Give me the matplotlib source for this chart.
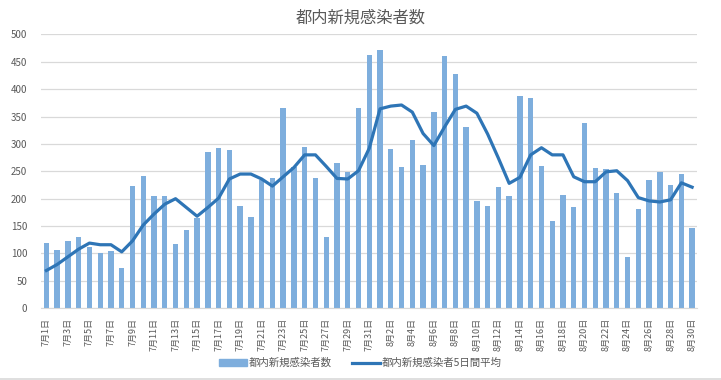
import numpy as np
import matplotlib.pyplot as plt
from matplotlib.lines import Line2D
from matplotlib.patches import Patch

plt.rcParams['font.family'] = ['Noto Sans CJK JP', 'DejaVu Sans']

# dates 7/1 .. 8/30
dates = ['7月%d日' % d for d in range(1, 32)] + ['8月%d日' % d for d in range(1, 31)]

# daily new cases
cases = [119, 106, 123, 130, 111, 101, 105, 74, 223, 241,
         205, 205, 118, 143, 165, 286, 293, 289, 187, 167,
         235, 238, 366, 258, 294, 238, 131, 266, 249, 366,
         462, 471, 291, 257, 307, 262, 358, 460, 428, 330,
         196, 187, 221, 205, 387, 384, 260, 159, 207, 185,
         339, 256, 254, 210, 94, 181, 234, 249, 225, 245,
         147]

# 5-day average
avg5 = [69, 80, 94, 108, 119, 116, 116, 103, 123, 152,
        172, 190, 200, 184, 168, 184, 201, 236, 245, 245,
        236, 223, 240, 257, 280, 280, 259, 237, 236, 251,
        292, 364, 369, 371, 358, 319, 297, 331, 363, 369,
        356, 318, 274, 228, 239, 280, 293, 280, 280, 240,
        231, 231, 249, 251, 233, 202, 196, 194, 198, 229,
        221]

bar_label = '都内新規感染者数'
line_label = '都内新規感染者5日間平均'

dpi = 100
fig = plt.figure(figsize=(7.21, 3.80), dpi=dpi)
ax = fig.add_axes([0.0569, 0.1887, 0.9105, 0.721])

x = np.arange(len(dates)) + 0.5
ax.bar(x, cases, width=0.5, color='#7eaedd', zorder=2)
ax.plot(x, avg5, color='#2e75b6', linewidth=2.3, zorder=3, solid_joinstyle='round')

ax.set_xlim(0, len(dates))
ax.set_ylim(0, 500)
ax.set_yticks(range(0, 501, 50))
ax.yaxis.grid(True, color='#d9d9d9', linewidth=0.9, zorder=0)
ax.set_xticks(x[::2])
ax.set_xticklabels(dates[::2], rotation=90, fontsize=6.5, color='#595959')
ax.tick_params(axis='y', labelsize=7, labelcolor='#595959', length=0, pad=10)
ax.tick_params(axis='x', length=0, pad=7)
for s in ['top', 'right', 'left']:
    ax.spines[s].set_visible(False)
ax.spines['bottom'].set_color('#d9d9d9')

fig.text(0.5, 0.953, '都内新規感染者数', ha='center', va='center',
         fontsize=11.7, color='#595959')

handles = [Patch(color='#7eaedd'), Line2D([0], [0], color='#2e75b6', linewidth=2.3)]
fig.legend(handles, [bar_label, line_label], loc='center', bbox_to_anchor=(0.5, 0.045),
           ncol=2, frameon=False, fontsize=7.5, labelcolor='#595959',
           handlelength=2.6, handleheight=0.6, columnspacing=2.0, handletextpad=0.2)

fig.add_artist(Line2D([0, 1], [0.003, 0.003], color='#d9d9d9', linewidth=1.2,
                      transform=fig.transFigure))

fig.savefig('out.png', dpi=dpi)
